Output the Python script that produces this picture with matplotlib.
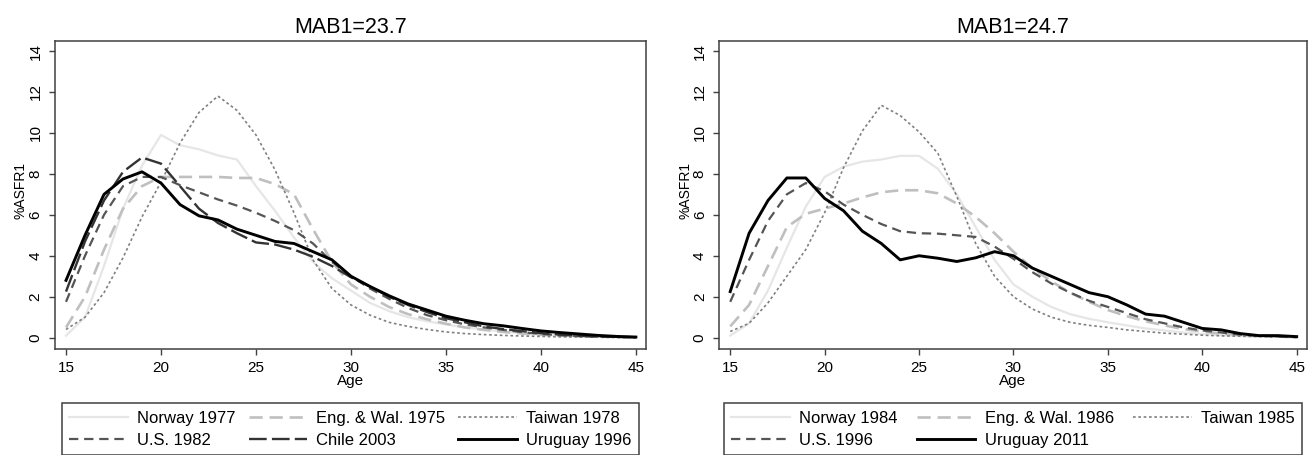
import matplotlib
matplotlib.use("Agg")
import matplotlib.pyplot as plt

plt.rcParams["font.family"] = ["Liberation Sans", "DejaVu Sans"]

# Datos: %ASFR1 por edad simple

ages = list(range(15, 46))

# panel izquierdo (MAB1=23.7)
norway_1977 = [0.1, 1.0, 3.5, 6.3, 8.4, 9.9, 9.4, 9.2, 8.9, 8.7, 7.4, 6.2, 4.9, 3.7, 2.9, 2.3,
               1.7, 1.3, 1.0, 0.8, 0.65, 0.5, 0.4, 0.3, 0.22, 0.15, 0.1, 0.07, 0.05, 0.03, 0.02]
eng_wal_1975 = [0.5, 2.0, 4.3, 6.3, 7.4, 7.85, 7.85, 7.85, 7.85, 7.8, 7.8, 7.5, 7.0, 5.3, 3.7, 2.6,
                2.0, 1.5, 1.15, 0.9, 0.68, 0.5, 0.38, 0.28, 0.2, 0.14, 0.1, 0.07, 0.05, 0.03, 0.02]
taiwan_1978 = [0.4, 1.0, 2.2, 3.9, 5.9, 7.6, 9.5, 11.0, 11.8, 11.1, 9.9, 8.2, 6.1, 3.8, 2.4, 1.6,
               1.1, 0.75, 0.55, 0.4, 0.28, 0.2, 0.15, 0.11, 0.08, 0.06, 0.04, 0.03, 0.02, 0.01, 0.01]
us_1982 = [1.75, 4.0, 6.0, 7.4, 7.85, 7.85, 7.45, 7.1, 6.75, 6.45, 6.1, 5.7, 5.25, 4.6, 3.7, 3.0,
           2.4, 1.9, 1.45, 1.1, 0.85, 0.65, 0.5, 0.38, 0.27, 0.18, 0.12, 0.08, 0.05, 0.03, 0.02]
chile_2003 = [2.25, 4.7, 6.7, 8.1, 8.8, 8.5, 7.4, 6.3, 5.6, 5.1, 4.65, 4.55, 4.3, 3.95, 3.5, 2.95,
              2.5, 2.0, 1.6, 1.25, 0.95, 0.75, 0.55, 0.42, 0.32, 0.22, 0.15, 0.1, 0.06, 0.04, 0.02]
uruguay_1996 = [2.8, 5.0, 7.0, 7.75, 8.1, 7.55, 6.5, 5.95, 5.75, 5.3, 5.0, 4.7, 4.6, 4.2, 3.8, 3.0,
                2.5, 2.05, 1.65, 1.35, 1.05, 0.85, 0.68, 0.58, 0.45, 0.33, 0.25, 0.18, 0.11, 0.06, 0.03]

# panel derecho (MAB1=24.7)
norway_1984 = [0.1, 0.7, 2.3, 4.4, 6.4, 7.85, 8.35, 8.6, 8.7, 8.88, 8.88, 8.25, 7.0, 5.4, 3.8, 2.6,
               2.0, 1.5, 1.15, 0.92, 0.75, 0.6, 0.45, 0.35, 0.25, 0.18, 0.12, 0.08, 0.05, 0.03, 0.02]
eng_wal_1986 = [0.55, 1.6, 3.5, 5.4, 6.05, 6.3, 6.55, 6.85, 7.1, 7.2, 7.2, 7.05, 6.55, 5.9, 5.1, 4.2,
                3.4, 2.75, 2.2, 1.75, 1.35, 1.05, 0.8, 0.6, 0.42, 0.3, 0.2, 0.14, 0.09, 0.05, 0.03]
taiwan_1985 = [0.3, 0.7, 1.7, 3.0, 4.3, 6.1, 8.3, 10.1, 11.35, 10.85, 10.05, 9.0, 6.9, 4.6, 3.0, 2.0,
               1.4, 1.0, 0.75, 0.6, 0.5, 0.38, 0.3, 0.22, 0.17, 0.12, 0.09, 0.07, 0.05, 0.04, 0.03]
us_1996 = [1.75, 3.8, 5.7, 7.0, 7.55, 7.15, 6.5, 6.0, 5.55, 5.2, 5.1, 5.08, 5.0, 4.92, 4.45, 3.85,
           3.2, 2.65, 2.2, 1.8, 1.5, 1.2, 0.9, 0.7, 0.5, 0.35, 0.25, 0.15, 0.1, 0.05, 0.02]
uruguay_2011 = [2.25, 5.1, 6.7, 7.8, 7.8, 6.8, 6.2, 5.2, 4.6, 3.8, 4.0, 3.88, 3.72, 3.9, 4.2, 4.0,
                3.4, 3.0, 2.6, 2.2, 2.0, 1.6, 1.15, 1.05, 0.75, 0.45, 0.38, 0.2, 0.1, 0.1, 0.05]

x_ticks = [15, 20, 25, 30, 35, 40, 45]
y_ticks = [0, 2, 4, 6, 8, 10, 12, 14]

# estilos por tipo de serie
estilos = {
    "norway": dict(color="#e6e6e6", lw=1.6, ls="-"),
    "eng": dict(color="#bfbfbf", lw=1.9, dashes=(5, 2.6)),
    "taiwan": dict(color="#808080", lw=1.2, dashes=(1.6, 1.6)),
    "us": dict(color="#555555", lw=1.6, dashes=(4.2, 2.6)),
    "chile": dict(color="#333333", lw=1.7, dashes=(7.5, 2.2)),
    "uruguay": dict(color="#000000", lw=2.1, ls="-"),
}

panel_izq = [
    ("norway", "Norway 1977", norway_1977),
    ("eng", "Eng. & Wal. 1975", eng_wal_1975),
    ("taiwan", "Taiwan 1978", taiwan_1978),
    ("us", "U.S. 1982", us_1982),
    ("chile", "Chile 2003", chile_2003),
    ("uruguay", "Uruguay 1996", uruguay_1996),
]
panel_der = [
    ("norway", "Norway 1984", norway_1984),
    ("eng", "Eng. & Wal. 1986", eng_wal_1986),
    ("taiwan", "Taiwan 1985", taiwan_1985),
    ("us", "U.S. 1996", us_1996),
    ("uruguay", "Uruguay 2011", uruguay_2011),
]

FRAME = "#404040"

fig = plt.figure(figsize=(13.08, 4.55), dpi=100)
ax1 = fig.add_axes([0.04205, 0.2336, 0.4518, 0.6763])
ax2 = fig.add_axes([0.5499, 0.2336, 0.4491, 0.6763])


def dibujar(ax, titulo, series, leg_x, leg_w):
    lineas = {}
    for clave, etiqueta, valores in series:
        ln, = ax.plot(ages, valores, label=etiqueta, **estilos[clave])
        lineas[etiqueta] = ln
    ax.set_xlim(14.42, 45.53)
    ax.set_ylim(-0.54, 14.49)
    ax.set_xticks(x_ticks)
    ax.set_yticks(y_ticks)
    for s in ax.spines.values():
        s.set_color(FRAME)
        s.set_linewidth(1.1)
    ax.tick_params(direction="out", length=4, width=1, color=FRAME,
                   labelsize=11, pad=5)
    ax.tick_params(axis="y", labelrotation=90)
    for t in ax.get_yticklabels():
        t.set_va("center")
    ax.set_title(titulo, fontsize=15.5, pad=6)
    ax.set_xlabel("Age", fontsize=11, labelpad=-1)
    ax.set_ylabel("%ASFR1", fontsize=10, va="center")
    ax.yaxis.set_label_coords(-0.058, 0.515)

    # legenda por filas: reordenar para el llenado por columnas
    etiquetas = [e for _, e, _ in series]
    filas = [etiquetas[:3], etiquetas[3:]]
    orden = []
    for c in range(3):
        for f in filas:
            if c < len(f):
                orden.append(f[c])
    leg = ax.legend([lineas[e] for e in orden], orden, ncol=3, mode="expand",
                    loc="upper left", bbox_to_anchor=(leg_x, -0.1765, leg_w, 0),
                    fontsize=12, handlelength=3.5, handletextpad=0.55,
                    labelspacing=0.42, borderpad=0.45, borderaxespad=0,
                    fancybox=False, framealpha=1, edgecolor=FRAME)
    leg.get_frame().set_linewidth(1.1)


dibujar(ax1, "MAB1=23.7", panel_izq, 0.0118, 0.976)
dibujar(ax2, "MAB1=24.7", panel_der, 0.008, 0.984)

fig.savefig("out.png", dpi=100)
